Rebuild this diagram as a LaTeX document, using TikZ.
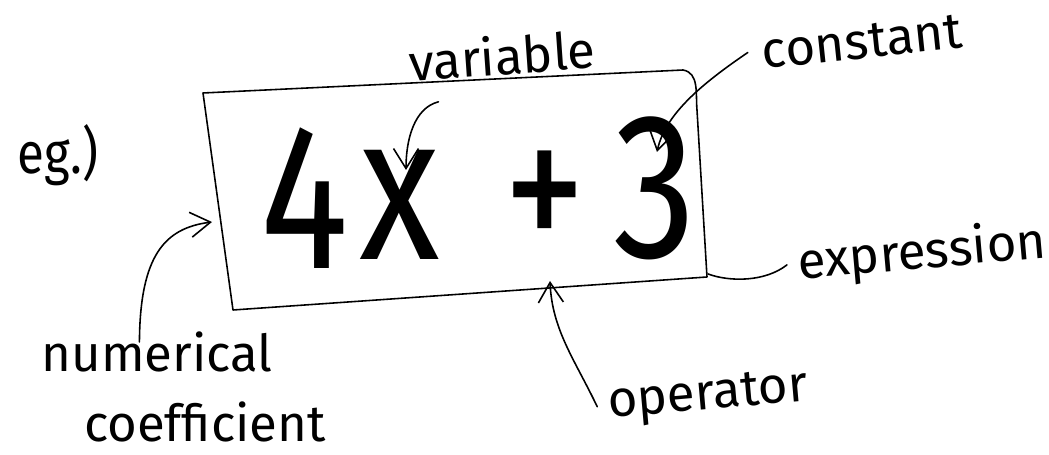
\documentclass[tikz,border=0pt]{standalone}
\usepackage{fontspec}
\setmainfont{Fira Sans}
\usetikzlibrary{arrows.meta}

\begin{document}
\begin{tikzpicture}[x=0.02cm, y=-0.02cm,
    pen/.style={line width=0.9pt, line cap=round, line join=round},
    note/.style={inner sep=0pt, font=\fontsize{29}{34}\selectfont},
    big/.style={inner sep=0pt, font=\fontsize{118}{130}\selectfont\addfontfeature{FakeStretch=0.8}},
    tip/.style={-{Straight Barb[length=4mm, width=5mm]}}]
    \useasboundingbox (0,0) rectangle (1049,455);

    % Box round the expression
    \draw[pen] (203,93) -- (683,70) to[out=-10, in=95] (697,110)
        -- (707,277) -- (233,310) -- cycle;

    % The expression itself
    \node[big] (four) at (305,198) {4};
    \node[big] (var) at (400,205) {x};
    \node[big] (plus) at (545,205) {+};
    \node[big] (three) at (655,188) {3};

    % Labels
    \node[note, font=\fontsize{33}{40}\selectfont, xscale=0.85] (eg) at (58,155) {eg.)};
    \node[note, rotate=4] (variable) at (502,55) {variable};
    \node[note, rotate=6] (constant) at (862,42) {constant};
    \node[note, rotate=5] (expression) at (922,254) {expression};
    \node[note] (numerical) at (157,352) {numerical};
    \node[note] (coefficient) at (205,422) {coefficient};
    \node[note, rotate=5] (operator) at (708,398) {operator};

    % Arrow ends on the box
    \coordinate (varTip) at (406,170);
    \coordinate (constTip) at (657,152);
    \coordinate (coefTip) at (212,222);
    \coordinate (opTip) at (550,281);
    \coordinate (boxCorner) at (708,274);

    % Arrows
    \draw[pen, tip] ([xshift=-37pt, yshift=-15pt]variable.south) .. controls (414,108) and (406,140) .. (varTip);
    \draw[pen, tip] ([xshift=-8pt]constant.west) .. controls (700,85) and (665,115) .. (constTip);
    \draw[pen, tip] ([xshift=-10pt, yshift=-6pt]numerical.north) .. controls (140,255) and (165,228) .. (coefTip);
    \draw[pen, tip] ([xshift=-6pt]operator.west) .. controls (575,360) and (552,330) .. (opTip);

    % Line to the corner
    \draw[pen] ([xshift=-6pt]expression.west) .. controls (765,282) and (730,282) .. (boxCorner);
\end{tikzpicture}
\end{document}
